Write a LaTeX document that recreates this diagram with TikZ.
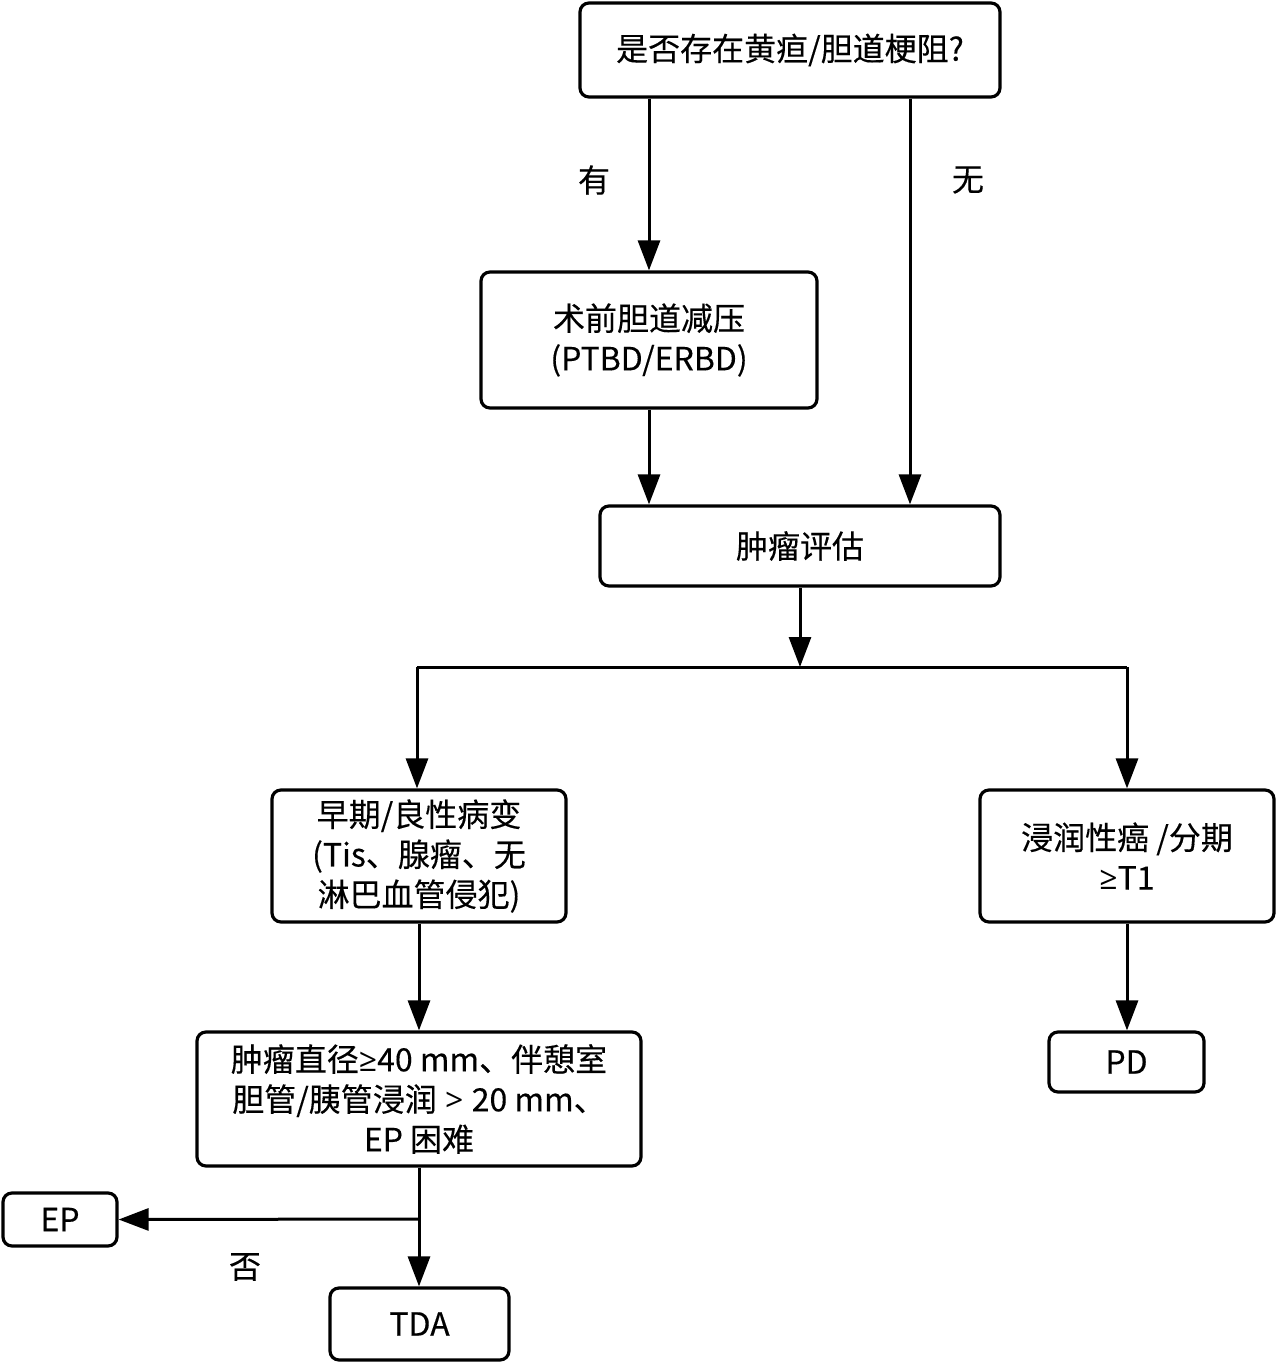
\documentclass[tikz,border=0pt]{standalone}
\usepackage{fontspec}
\setmainfont{Noto Sans CJK SC}[FakeBold=0.3]
\newfontfamily\lat{Open Sans}
\usetikzlibrary{arrows.meta}
\begin{document}
\begin{tikzpicture}[x=1pt,y=-1pt,
  box/.style={draw, line width=3.2pt, rounded corners=9pt, align=center, inner sep=0pt,
    font=\fontsize{32}{40}\selectfont},
  lbl/.style={font=\fontsize{32}{40}\selectfont, inner sep=0pt},
  ln/.style={line width=3pt},
  arr/.style={line width=3pt, -{Triangle[length=30pt,width=22pt]}}]
\useasboundingbox (0,0) rectangle (1275,1362);
\node[box, minimum width=420pt, minimum height=94pt] (q) at (790,50) {是否存在黄疸/胆道梗阻?};
\node[box, minimum width=336pt, minimum height=136pt] (pre) at (649,340) {术前胆道减压\\(PTBD/ERBD)};
\node[box, minimum width=400pt, minimum height=80pt] (eval) at (800,546) {肿瘤评估};
\node[box, minimum width=294pt, minimum height=132pt] (early) at (419,856) {早期/良性病变\\(Tis、腺瘤、无\\淋巴血管侵犯)};
\node[box, minimum width=294pt, minimum height=132pt] (inv) at (1127,856) {浸润性癌 /分期\\{\lat ≥}T1};
\node[box, minimum width=444pt, minimum height=134pt] (size) at (419,1099) {肿瘤直径{\lat ≥}40 mm、伴憩室\\胆管/胰管浸润{\lat\ > }20 mm、\\EP 困难};
\node[box, minimum width=155pt, minimum height=60pt] (pd) at (1126.5,1062) {PD};
\node[box, minimum width=114pt, minimum height=53pt] (ep) at (60,1219.5) {EP};
\node[box, minimum width=179pt, minimum height=72pt] (tda) at (419.5,1324) {TDA};
\node[lbl] (yes) at (594,180) {有};
\node[lbl] (no) at (968,180) {无};
\node[lbl] (fou) at (245,1267) {否};
\coordinate (r) at (910,0);
\coordinate (j) at (800,667);
\coordinate (jl) at (417,667);
\coordinate (jr) at (1127,667);
\coordinate (b) at (419,1219);
\draw[arr] (q.south -| pre.north) -- (pre.north);
\draw[arr] (q.south -| r) -- (eval.north -| r);
\draw[arr] (pre.south) -- (pre.south |- eval.north);
\draw[arr] (eval.south) -- (j);
\draw[ln] (jl) -- (jr);
\draw[arr] (jl) -- (early.north -| jl);
\draw[arr] (jr) -- (inv.north);
\draw[arr] (early.south) -- (size.north);
\draw[arr] (inv.south) -- (pd.north -| inv.south);
\draw[arr] (size.south) -- (tda.north -| size.south);
\draw[arr] (b) -- (ep.east);
\end{tikzpicture}
\end{document}
